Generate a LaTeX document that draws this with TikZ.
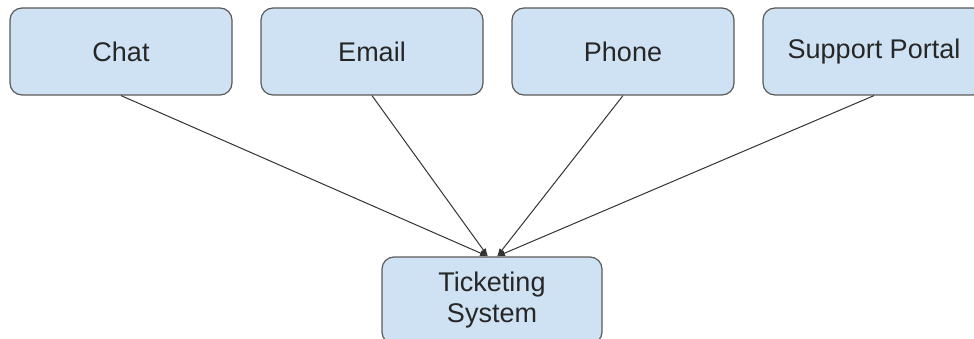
\documentclass[tikz,border=0pt]{standalone}
\usepackage{fontspec}
\setmainfont{Liberation Sans}
\usetikzlibrary{arrows.meta}
\definecolor{boxblue}{HTML}{CFE2F3}
\definecolor{boxline}{HTML}{595959}
\begin{document}
\begin{tikzpicture}[x=1pt,y=-1pt,
  channel/.style={draw=boxline,fill=boxblue,line width=1.2pt,rounded corners=12pt,
    minimum width=222pt,minimum height=87pt,inner sep=0pt,align=center,
    font=\fontsize{27}{31}\selectfont,text=black!85},
  feed/.style={-{Latex[length=8pt,width=6pt]},line width=1pt,draw=black!80}]
\useasboundingbox (0,0) rectangle (974,339);
\node[channel] (chat) at (121,51.5) {Chat};
\node[channel] (email) at (372,51.5) {Email};
\node[channel] (phone) at (623,51.5) {Phone};
\node[channel] (portal) at (874,51.5) {Support Portal};
\node[channel,minimum width=220pt] (ticket) at (492,300.5) {Ticketing\\System};
% channels feed into the ticket queue
\draw[feed] (chat.south) -- ([xshift=-4pt]ticket.north);
\draw[feed] (email.south) -- ([xshift=-4pt]ticket.north);
\draw[feed] (phone.south) -- ([xshift=5pt]ticket.north);
\draw[feed] (portal.south) -- ([xshift=5pt]ticket.north);
\end{tikzpicture}
\end{document}
